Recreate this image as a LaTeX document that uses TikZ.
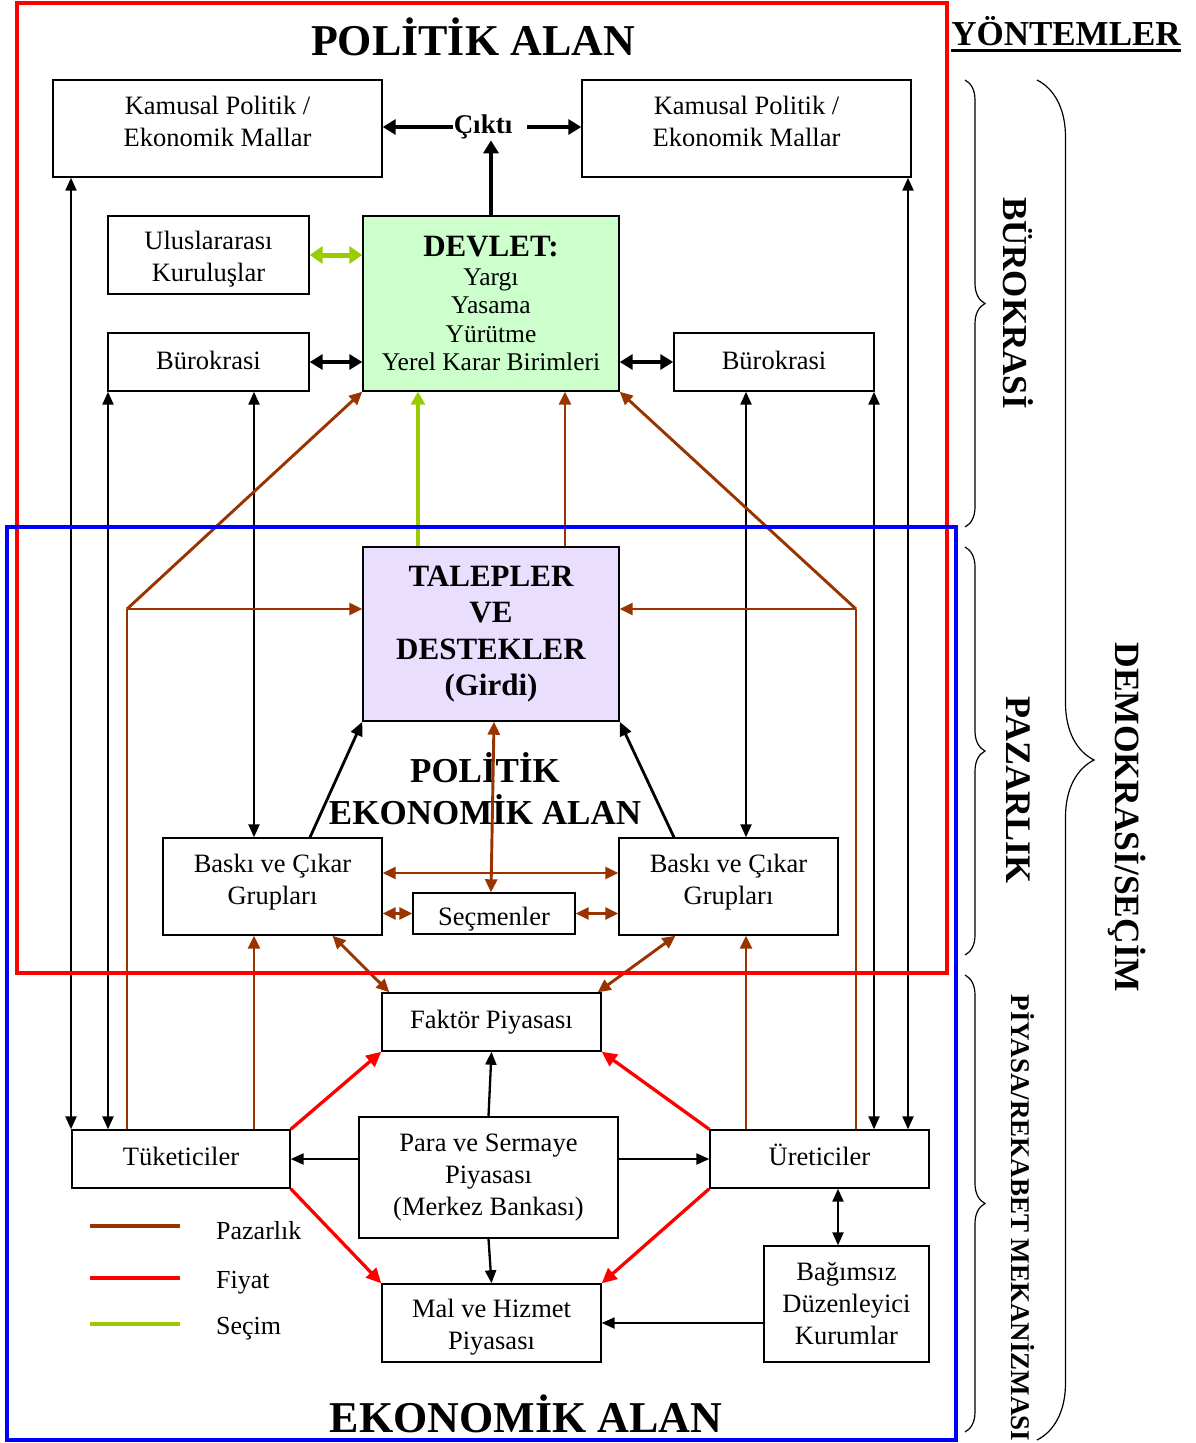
\documentclass[tikz,border=0pt]{standalone}
\usepackage{fontspec}
\setmainfont{Liberation Serif}
\usetikzlibrary{arrows.meta,decorations.pathreplacing,calc}
\definecolor{brn}{RGB}{153,51,0}
\definecolor{grn}{RGB}{153,204,0}
\definecolor{devfill}{RGB}{204,255,204}
\definecolor{talfill}{RGB}{234,222,255}
\definecolor{redc}{RGB}{255,0,0}
\definecolor{bluec}{RGB}{0,0,255}
\begin{document}
\begin{tikzpicture}[x=1pt,y=-1pt,
  box/.style={draw, line width=1.4pt, fill=white, inner sep=0pt, align=center,
    font=\fontsize{26.5}{32}\selectfont},
  txt/.style={align=center, inner sep=0pt, font=\fontsize{26.5}{32}\selectfont},
  blk/.style={line width=2.3pt, >={Triangle[length=13pt,width=11pt]}},
  blkm/.style={line width=2.8pt, >={Triangle[length=14pt,width=12pt]}},
  blkt/.style={line width=4pt, >={Triangle[length=13pt,width=15pt]}},
  brnl/.style={brn, line width=2.9pt, >={Triangle[length=13pt,width=12pt]}},
  grnl/.style={grn, line width=4pt, >={Triangle[length=13pt,width=14pt]}},
  redl/.style={redc, line width=3.3pt, >={Triangle[length=15pt,width=14pt]}},
  bracestyle/.style={decorate, line width=1.2pt},
  ttl/.style={font=\bfseries\fontsize{44}{50}\selectfont, inner sep=0pt},
  side/.style={rotate=-90, inner sep=0pt},
  legtext/.style={anchor=west, inner sep=0pt, font=\fontsize{26}{30}\selectfont}
]
\useasboundingbox (0,0) rectangle (1196,1443);

% helper columns
\coordinate (c71) at (71,0);
\coordinate (c108) at (108,0);
\coordinate (c254) at (254,0);
\coordinate (c418) at (418,0);
\coordinate (c565) at (565,0);
\coordinate (c746) at (746,0);
\coordinate (c838) at (838,0);
\coordinate (c874) at (874,0);
\coordinate (c908) at (908,0);
\coordinate (J1) at (127,609);
\coordinate (J2) at (856,609);

% titles
\node[ttl, anchor=base] (PA) at (473,55) {POLİTİK ALAN};
\node[anchor=base, inner sep=0pt, font=\bfseries\fontsize{35}{40}\selectfont] (YON) at (1066,45) {YÖNTEMLER};
\draw[line width=3pt] ([yshift=-5pt]YON.base west) -- ([yshift=-5pt]YON.base east);
\node[ttl, anchor=base] (EA) at (526,1432) {EKONOMİK ALAN};
\node[align=center, inner sep=0pt, font=\bfseries\fontsize{35}{42}\selectfont] (PEA) at (485,789) {POLİTİK\\EKONOMİK ALAN};

% boxes
\node[box, minimum width=329pt, minimum height=97pt,
  label={[txt, yshift=7pt]center:{Kamusal Politik /\\Ekonomik Mallar}}] (K1) at (217.5,128.5) {};
\node[box, minimum width=329pt, minimum height=97pt,
  label={[txt, yshift=7pt]center:{Kamusal Politik /\\Ekonomik Mallar}}] (K2) at (746.5,128.5) {};
\node[inner sep=1pt, font=\bfseries\fontsize{27}{30}\selectfont] (CIK) at (483,127) {Çıktı};
\node[box, minimum width=201pt, minimum height=78pt,
  label={[txt, yshift=-4pt]center:{Uluslararası\\Kuruluşlar}}] (UL) at (208.5,255) {};
\node[box, fill=devfill, minimum width=256pt, minimum height=175pt, font=\fontsize{25.5}{28.5}\selectfont] (DEV) at (491,303.5)
  {{\bfseries\fontsize{31}{32}\selectfont DEVLET:}\\Yargı\\Yasama\\Yürütme\\Yerel Karar Birimleri};
\node[box, minimum width=201pt, minimum height=58pt,
  label={[txt, yshift=2pt]center:Bürokrasi}] (B1) at (208.5,362) {};
\node[box, minimum width=200pt, minimum height=58pt,
  label={[txt, yshift=2pt]center:Bürokrasi}] (B2) at (774,362) {};
\node[box, fill=talfill, minimum width=256pt, minimum height=174pt, font=\bfseries\fontsize{31}{36.5}\selectfont] (TAL) at (491,634)
  {TALEPLER\\VE\\DESTEKLER\\(Girdi)};
\node[box, minimum width=219pt, minimum height=97pt,
  label={[txt, yshift=4pt]center:{Baskı ve Çıkar\\Grupları}}] (BK1) at (272.5,886.5) {};
\node[box, minimum width=219pt, minimum height=97pt,
  label={[txt, yshift=4pt]center:{Baskı ve Çıkar\\Grupları}}] (BK2) at (728.5,886.5) {};
\node[box, minimum width=162pt, minimum height=41pt,
  label={[txt, yshift=-6pt]center:Seçmenler}] (SEC) at (494,913.5) {};
\node[box, minimum width=219pt, minimum height=58pt,
  label={[txt]center:Faktör Piyasası}] (FAK) at (491.5,1022) {};
\node[box, minimum width=218pt, minimum height=58pt,
  label={[txt, yshift=3pt]center:Tüketiciler}] (TUK) at (181,1159) {};
\node[box, minimum width=259pt, minimum height=121pt,
  label={[txt]center:{Para ve Sermaye\\Piyasası\\(Merkez Bankası)}}] (PARA) at (488.5,1177.5) {};
\node[box, minimum width=219pt, minimum height=58pt,
  label={[txt, yshift=4pt]center:Üreticiler}] (URE) at (819.5,1159) {};
\node[box, minimum width=219pt, minimum height=78pt,
  label={[txt, yshift=-4pt]center:{Mal ve Hizmet\\Piyasası}}] (MAL) at (491.5,1323) {};
\node[box, minimum width=165pt, minimum height=116pt,
  label={[txt]center:{Bağımsız\\Düzenleyici\\Kurumlar}}] (BAG) at (846.5,1304) {};

% black thin connectors
\draw[blk,<->] (K1.south -| c71) -- (TUK.north -| c71);
\draw[blk,<->] (B1.south -| c108) -- (TUK.north -| c108);
\draw[blk,<->] (B1.south -| c254) -- (BK1.north -| c254);
\draw[blk,<->] (B2.south -| c746) -- (BK2.north -| c746);
\draw[blk,<->] (B2.south -| c874) -- (URE.north -| c874);
\draw[blk,<->] (K2.south -| c908) -- (URE.north -| c908);
\draw[blk,->] (PARA.north) -- (FAK.south);
\draw[blk,->] (PARA.south) -- (MAL.north);
\draw[blk,->] (PARA.west |- TUK.east) -- (TUK.east);
\draw[blk,->] (PARA.east |- URE.west) -- (URE.west);
\draw[blk,<->] (URE.south -| c838) -- (BAG.north -| c838);
\draw[blk,->] (BAG.west |- MAL.east) -- (MAL.east);

% black medium
\draw[blkm,->] ([xshift=37.5pt]BK1.north) -- (TAL.south west);
\draw[blkm,->] ([xshift=-54.5pt]BK2.north) -- (TAL.south east);

% black thick
\draw[blkt,<->] (B1.east) -- (B1.east -| DEV.west);
\draw[blkt,<->] (B2.west) -- (B2.west -| DEV.east);
\draw[blkt,->] (CIK.west) -- (CIK.west -| K1.east);
\draw[blkt,->] ([xshift=14pt]CIK.east) -- (CIK.east -| K2.west);
\draw[blkt,->] (DEV.north) -- (CIK.south -| DEV.north);

% brown
\draw[brnl] (TUK.north -| J1) -- (J1);
\draw[brnl,->] (J1) -- (J1 -| TAL.west);
\draw[brnl,->] (J1) -- (DEV.south west);
\draw[brnl] (URE.north -| J2) -- (J2);
\draw[brnl,->] (J2) -- (J2 -| TAL.east);
\draw[brnl,->] (J2) -- (DEV.south east);
\draw[brnl,->] (TAL.north -| c565) -- (DEV.south -| c565);
\draw[brnl,->] (TUK.north -| c254) -- (BK1.south -| c254);
\draw[brnl,->] (URE.north -| c746) -- (BK2.south -| c746);
\draw[brnl,<->] ([yshift=13.5pt]BK1.east) -- ([yshift=13.5pt]BK2.west);
\draw[brnl,<->] ([xshift=3pt]TAL.south) -- ([xshift=-3pt]SEC.north);
\draw[brnl,<->] (BK1.east |- SEC.west) -- (SEC.west);
\draw[brnl,<->] (SEC.east) -- (SEC.east -| BK2.west);
\draw[brnl,<->] ([xshift=60pt]BK1.south) -- ([xshift=8pt]FAK.north west);
\draw[brnl,<->] ([xshift=-53pt]BK2.south) -- ([xshift=-4pt]FAK.north east);

% green
\draw[grnl,->] (TAL.north -| c418) -- (DEV.south -| c418);
\draw[grnl,line width=5pt,<->,>={Triangle[length=13pt,width=17pt]}] (UL.east) -- (UL.east -| DEV.west);

% red
\draw[redl,->] (TUK.north east) -- (FAK.south west);
\draw[redl,->] (TUK.south east) -- (MAL.north west);
\draw[redl,->] (URE.north west) -- (FAK.south east);
\draw[redl,->] (URE.south west) -- (MAL.north east);

% legend
\draw[brn, line width=4.5pt] (90,1226) -- (180,1226);
\draw[redc, line width=4.5pt] (90,1278) -- (180,1278);
\draw[grn, line width=4.5pt] (90,1324) -- (180,1324);
\node[legtext] (LP) at (216,1231) {Pazarlık};
\node[legtext] (LF) at (216,1283) {Fiyat};
\node[legtext] (LS) at (216,1329) {Seçim};

% domain rectangles
\draw[redc, line width=4.5pt] (17,3) rectangle (947,973);
\draw[bluec, line width=4.5pt] (7,527) rectangle (956,1440);

% braces
\draw[bracestyle, decoration={brace, amplitude=20pt}] (965,80) -- (965,527);
\draw[bracestyle, decoration={brace, amplitude=20pt}] (965,547) -- (965,955);
\draw[bracestyle, decoration={brace, amplitude=20pt}] (965,975) -- (965,1432);
\draw[bracestyle, decoration={brace, amplitude=57pt}] (1037,80) -- (1037,1440);

% side labels
\node[side, font=\bfseries\fontsize{35}{40}\selectfont] (BUR) at (1018,303) {BÜROKRASİ};
\node[side, font=\bfseries\fontsize{36}{40}\selectfont] (PAZ) at (1018,790) {PAZARLIK};
\node[side, font=\bfseries\fontsize{27}{30}\selectfont] (PIY) at (1023,1218) {PİYASA/REKABET MEKANİZMASI};
\node[side, font=\bfseries\fontsize{35.5}{40}\selectfont] (DEM) at (1127,817) {DEMOKRASİ/SEÇİM};
\end{tikzpicture}
\end{document}
